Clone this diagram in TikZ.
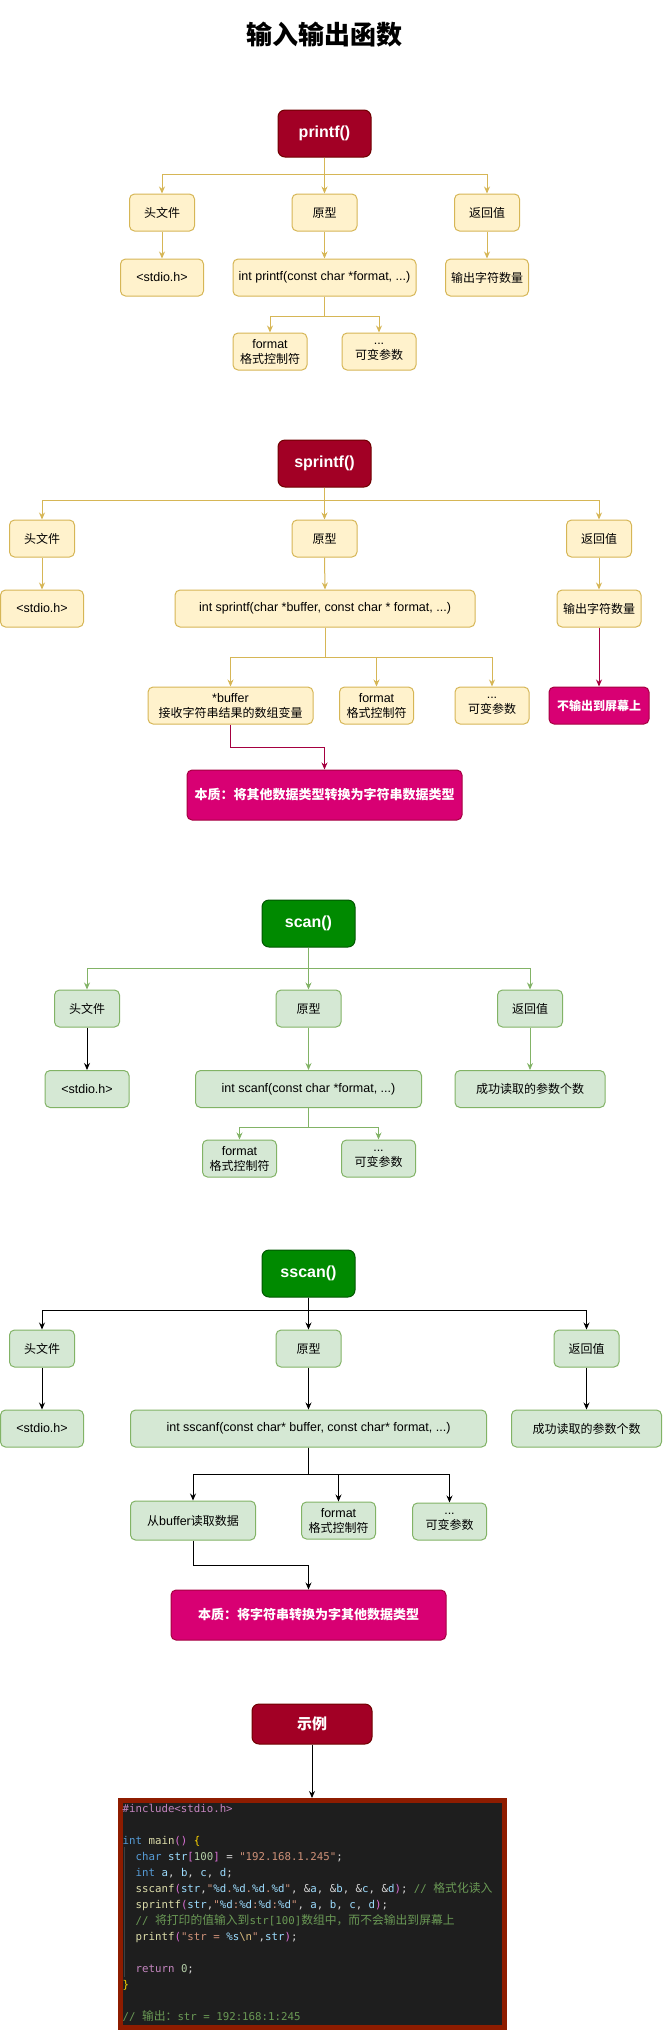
\documentclass[tikz,border=0pt]{standalone}
\usepackage{fontspec}
\setmainfont{Liberation Sans}
\newfontfamily\cjk{Noto Sans CJK SC}
\newfontfamily\codefont{DejaVu Sans Mono}[WordSpace={1,0,0}]
\usetikzlibrary{arrows.meta}
\definecolor{yfill}{HTML}{FFF2CC}
\definecolor{ydraw}{HTML}{D6B656}
\definecolor{gfill}{HTML}{D5E8D4}
\definecolor{gdraw}{HTML}{82B366}
\definecolor{rfill}{HTML}{A20025}
\definecolor{rdraw}{HTML}{6F0000}
\definecolor{gtfill}{HTML}{008A00}
\definecolor{gtdraw}{HTML}{005700}
\definecolor{mfill}{HTML}{D80073}
\definecolor{mdraw}{HTML}{A50040}
\definecolor{codebg}{HTML}{1E1E1E}
\definecolor{codeborder}{HTML}{8E1C00}
\definecolor{guide}{HTML}{404040}
\definecolor{ckw}{HTML}{569CD6}
\definecolor{cfn}{HTML}{DCDCAA}
\definecolor{cvr}{HTML}{9CDCFE}
\definecolor{cst}{HTML}{CE9178}
\definecolor{cnm}{HTML}{B5CEA8}
\definecolor{ccm}{HTML}{6A9955}
\definecolor{cpp}{HTML}{C586C0}
\definecolor{cba}{HTML}{FFD700}
\definecolor{cbb}{HTML}{DA70D6}
\definecolor{cop}{HTML}{D4D4D4}
\definecolor{ces}{HTML}{D7BA7D}
\newcommand\cKw[1]{\textcolor{ckw}{#1}}
\newcommand\cFn[1]{\textcolor{cfn}{#1}}
\newcommand\cVr[1]{\textcolor{cvr}{#1}}
\newcommand\cSt[1]{\textcolor{cst}{#1}}
\newcommand\cNm[1]{\textcolor{cnm}{#1}}
\newcommand\cCm[1]{\textcolor{ccm}{#1}}
\newcommand\cPp[1]{\textcolor{cpp}{#1}}
\newcommand\cBa[1]{\textcolor{cba}{#1}}
\newcommand\cBb[1]{\textcolor{cbb}{#1}}
\newcommand\cEs[1]{\textcolor{ces}{#1}}
\newcommand\zh[1]{{\fontsize{11.8}{13}\cjk #1}}
\newcommand\zl[1]{{\fontsize{12}{15}\cjk #1}}
\tikzset{
  box/.style={rounded corners=5pt, line width=1pt, minimum height=37pt, inner sep=0pt, align=center, font=\fontsize{12.5}{15}\selectfont},
  ybox/.style={box, draw=ydraw, fill=yfill},
  gbox/.style={box, draw=gdraw, fill=gfill},
  tbox/.style={rounded corners=7pt, line width=1pt, minimum width=93pt, minimum height=47pt, inner sep=0pt, text=white, font=\fontsize{16}{19}\selectfont\bfseries},
  rtitle/.style={tbox, draw=rdraw, fill=rfill},
  gtitle/.style={tbox, draw=gtdraw, fill=gtfill},
  mbox/.style={box, draw=mdraw, fill=mfill, text=white, font=\fontsize{12}{15}\selectfont\cjk\bfseries},
  conn/.style={line width=1pt, -{Stealth[length=7pt,width=6pt]}},
  yline/.style={conn, draw=ydraw},
  gline/.style={conn, draw=gdraw},
  kline/.style={conn, draw=black},
  mline/.style={conn, draw=mdraw},
  codeline/.style={anchor=base west, inner sep=0pt, text=cop, font=\codefont\fontsize{10.75}{13}\selectfont\frenchspacing},
}
\begin{document}
\begin{tikzpicture}[x=1pt,y=-1pt]
\useasboundingbox (0,0) rectangle (663,2030);
\node[font=\fontsize{26}{30}\selectfont\cjk\bfseries] (title) at (324.5,35) {输入输出函数};

% ---------------- printf ----------------
\node[rtitle] (pf) at (324.5,133.5) {printf()};
\node[ybox, minimum width=65pt] (ph) at (162,212.5) {\zl{头文件}};
\node[ybox, minimum width=65pt] (pp) at (324.5,212.5) {\zl{原型}};
\node[ybox, minimum width=65pt] (pr) at (487,212.5) {\zl{返回值}};
\node[ybox, minimum width=83pt] (phs) at (162,277.5) {<stdio.h>};
\node[ybox, minimum width=183pt] (pps) at (324.5,277.5) {int printf(const char *format, ...)};
\node[ybox, minimum width=83pt] (prs) at (487,277.5) {\zl{输出字符数量}};
\node[ybox, minimum width=74pt] (pfm) at (270,351.5) {format\\\zl{格式控制符}};
\node[ybox, minimum width=74pt] (pv) at (379,351.5) {...\\\zl{可变参数}};
\coordinate (pb1) at (0,174);
\coordinate (pb2) at (0,316);
\draw[yline] (pf.south) -- (pp.north);
\draw[yline] (pf.south) |- (pb1 -| ph) -- (ph.north);
\draw[yline] (pf.south) |- (pb1 -| pr) -- (pr.north);
\draw[yline] (ph.south) -- (phs.north);
\draw[yline] (pp.south) -- (pps.north);
\draw[yline] (pr.south) -- (prs.north);
\draw[yline] (pps.south) |- (pb2 -| pfm) -- (pfm.north);
\draw[yline] (pps.south) |- (pb2 -| pv) -- (pv.north);

% ---------------- sprintf ----------------
\node[rtitle] (sp) at (324.5,463.5) {sprintf()};
\node[ybox, minimum width=65pt] (sh) at (42,538.5) {\zl{头文件}};
\node[ybox, minimum width=65pt] (spp) at (324.5,538.5) {\zl{原型}};
\node[ybox, minimum width=65pt] (sr) at (599,538.5) {\zl{返回值}};
\node[ybox, minimum width=83pt] (shs) at (42,608.5) {<stdio.h>};
\node[ybox, minimum width=300pt] (sps) at (325,608.5) {int sprintf(char *buffer, const char * format, ...)};
\node[ybox, minimum width=84pt] (srs) at (599,608.5) {\zl{输出字符数量}};
\node[ybox, minimum width=165pt] (sbf) at (230.5,705.5) {*buffer\\\zl{接收字符串结果的数组变量}};
\node[ybox, minimum width=74pt] (sfm) at (376.5,705.5) {format\\\zl{格式控制符}};
\node[ybox, minimum width=74pt] (sv) at (492,705.5) {...\\\zl{可变参数}};
\node[mbox, minimum width=100pt] (sno) at (599,705.5) {不输出到屏幕上};
\node[mbox, minimum width=275pt, minimum height=50pt, font=\fontsize{13}{16}\selectfont\cjk\bfseries] (sess) at (324.5,795) {本质：将其他数据类型转换为字符串数据类型};
\coordinate (sb1) at (0,500);
\coordinate (sb2) at (0,657);
\coordinate (sb3) at (0,747);
\draw[yline] (sp.south) -- (spp.north);
\draw[yline] (sp.south) |- (sb1 -| sh) -- (sh.north);
\draw[yline] (sp.south) |- (sb1 -| sr) -- (sr.north);
\draw[yline] (sh.south) -- (shs.north);
\draw[yline] (spp.south) -- (sps.north);
\draw[yline] (sr.south) -- (srs.north);
\draw[yline] (sps.south) |- (sb2 -| sbf) -- (sbf.north);
\draw[yline] (sps.south) |- (sb2 -| sfm) -- (sfm.north);
\draw[yline] (sps.south) |- (sb2 -| sv) -- (sv.north);
\draw[mline] (srs.south) -- (sno.north);
\draw[mline] (sbf.south) |- (sb3 -| sess) -- (sess.north);

% ---------------- scan ----------------
\node[gtitle] (sc) at (308.5,923.5) {scan()};
\node[gbox, minimum width=65pt] (ch) at (87,1008.5) {\zl{头文件}};
\node[gbox, minimum width=65pt] (cp) at (308.5,1008.5) {\zl{原型}};
\node[gbox, minimum width=65pt] (cr) at (530,1008.5) {\zl{返回值}};
\node[gbox, minimum width=84pt] (chs) at (87,1089) {<stdio.h>};
\node[gbox, minimum width=226pt] (cps) at (308.5,1089) {int scanf(const char *format, ...)};
\node[gbox, minimum width=150pt] (crs) at (530,1089) {\zl{成功读取的参数个数}};
\node[gbox, minimum width=74pt] (cfm) at (239.5,1158.5) {format\\\zl{格式控制符}};
\node[gbox, minimum width=74pt] (cv) at (378.5,1158.5) {...\\\zl{可变参数}};
\coordinate (cb1) at (0,968);
\coordinate (cb2) at (0,1127);
\draw[gline] (sc.south) -- (cp.north);
\draw[gline] (sc.south) |- (cb1 -| ch) -- (ch.north);
\draw[gline] (sc.south) |- (cb1 -| cr) -- (cr.north);
\draw[kline] (ch.south) -- (chs.north);
\draw[gline] (cp.south) -- (cps.north);
\draw[gline] (cr.south) -- (crs.north);
\draw[gline] (cps.south) |- (cb2 -| cfm) -- (cfm.north);
\draw[gline] (cps.south) |- (cb2 -| cv) -- (cv.north);

% ---------------- sscan ----------------
\node[gtitle] (ss) at (308.5,1273.5) {sscan()};
\node[gbox, minimum width=65pt] (dh) at (42,1348.5) {\zl{头文件}};
\node[gbox, minimum width=65pt] (dp) at (308.5,1348.5) {\zl{原型}};
\node[gbox, minimum width=65pt] (dr) at (586.5,1348.5) {\zl{返回值}};
\node[gbox, minimum width=83pt] (dhs) at (42,1428.5) {<stdio.h>};
\node[gbox, minimum width=356pt] (dps) at (308.5,1428.5) {int sscanf(const char* buffer, const char* format, ...)};
\node[gbox, minimum width=150pt] (drs) at (586.5,1428.5) {\zl{成功读取的参数个数}};
\node[gbox, minimum width=125pt, minimum height=39pt] (dbf) at (193,1520.5) {\zl{从}buffer\zl{读取数据}};
\node[gbox, minimum width=74pt] (dfm) at (338.5,1520.5) {format\\\zl{格式控制符}};
\node[gbox, minimum width=74pt] (dv) at (449.5,1521.5) {...\\\zl{可变参数}};
\node[mbox, minimum width=275pt, minimum height=50pt, font=\fontsize{13}{16}\selectfont\cjk\bfseries] (dess) at (308.5,1615) {本质：将字符串转换为字其他数据类型};
\coordinate (db1) at (0,1310);
\coordinate (db2) at (0,1474);
\coordinate (db3) at (0,1565);
\draw[kline] (ss.south) -- (dp.north);
\draw[kline] (ss.south) |- (db1 -| dh) -- (dh.north);
\draw[kline] (ss.south) |- (db1 -| dr) -- (dr.north);
\draw[kline] (dh.south) -- (dhs.north);
\draw[kline] (dp.south) -- (dps.north);
\draw[kline] (dr.south) -- (drs.north);
\draw[kline] (dps.south) |- (db2 -| dbf) -- (dbf.north);
\draw[kline] (dps.south) |- (db2 -| dfm) -- (dfm.north);
\draw[kline] (dps.south) |- (db2 -| dv) -- (dv.north);
\draw[kline] (dbf.south) |- (db3 -| dess) -- (dess.north);

% ---------------- example ----------------
\node[rtitle, minimum width=120pt, minimum height=40pt, font=\fontsize{15}{18}\selectfont\cjk\bfseries] (ex) at (312,1724) {示例};
\node[draw=codeborder, fill=codebg, line width=5pt, minimum width=384pt, minimum height=227pt, inner sep=0pt] (code) at (312.5,1914) {};
\draw[kline] (ex.south) -- (ex.south |- code.north);
\draw[guide, line width=1pt] (124,1847) -- (124,1977);

\node[codeline] (cl1) at (122.5,1812.5) {\cPp{\#include<stdio.h>}};
\node[codeline] (cl3) at (122.5,1844.5) {\cKw{int} \cFn{main}\cBb{()} \cBa{\{}};
\node[codeline] (cl4) at (135.5,1860.5) {\cKw{char} \cVr{str}\cBb{[}\cNm{100}\cBb{]} = \cSt{"192.168.1.245"};};
\node[codeline] (cl5) at (135.5,1876.5) {\cKw{int} \cVr{a}, \cVr{b}, \cVr{c}, \cVr{d};};
\node[codeline] (cl6) at (135.5,1892.5) {\cFn{sscanf}\cBb{(}\cVr{str},\cSt{"}\cVr{\%d}\cSt{.}\cVr{\%d}\cSt{.}\cVr{\%d}\cSt{.}\cVr{\%d}\cSt{"}, \&\cVr{a}, \&\cVr{b}, \&\cVr{c}, \&\cVr{d}\cBb{)}; \cCm{// \zh{格式化读入}}};
\node[codeline] (cl7) at (135.5,1908.5) {\cFn{sprintf}\cBb{(}\cVr{str},\cSt{"}\cVr{\%d}\cSt{:}\cVr{\%d}\cSt{:}\cVr{\%d}\cSt{:}\cVr{\%d}\cSt{"}, \cVr{a}, \cVr{b}, \cVr{c}, \cVr{d}\cBb{)};};
\node[codeline] (cl8) at (135.5,1924.5) {\cCm{// \zh{将打印的值输入到}str[100]\zh{数组中，而不会输出到屏幕上}}};
\node[codeline] (cl9) at (135.5,1940.5) {\cFn{printf}\cBb{(}\cSt{"str = }\cVr{\%s}\cEs{\textbackslash n}\cSt{"},\cVr{str}\cBb{)};};
\node[codeline] (cl11) at (135.5,1972.5) {\cPp{return} \cNm{0};};
\node[codeline] (cl12) at (122.5,1988.5) {\cBa{\}}};
\node[codeline] (cl14) at (122.5,2020.5) {\cCm{// \zh{输出：}str = 192:168:1:245}};
\end{tikzpicture}
\end{document}
